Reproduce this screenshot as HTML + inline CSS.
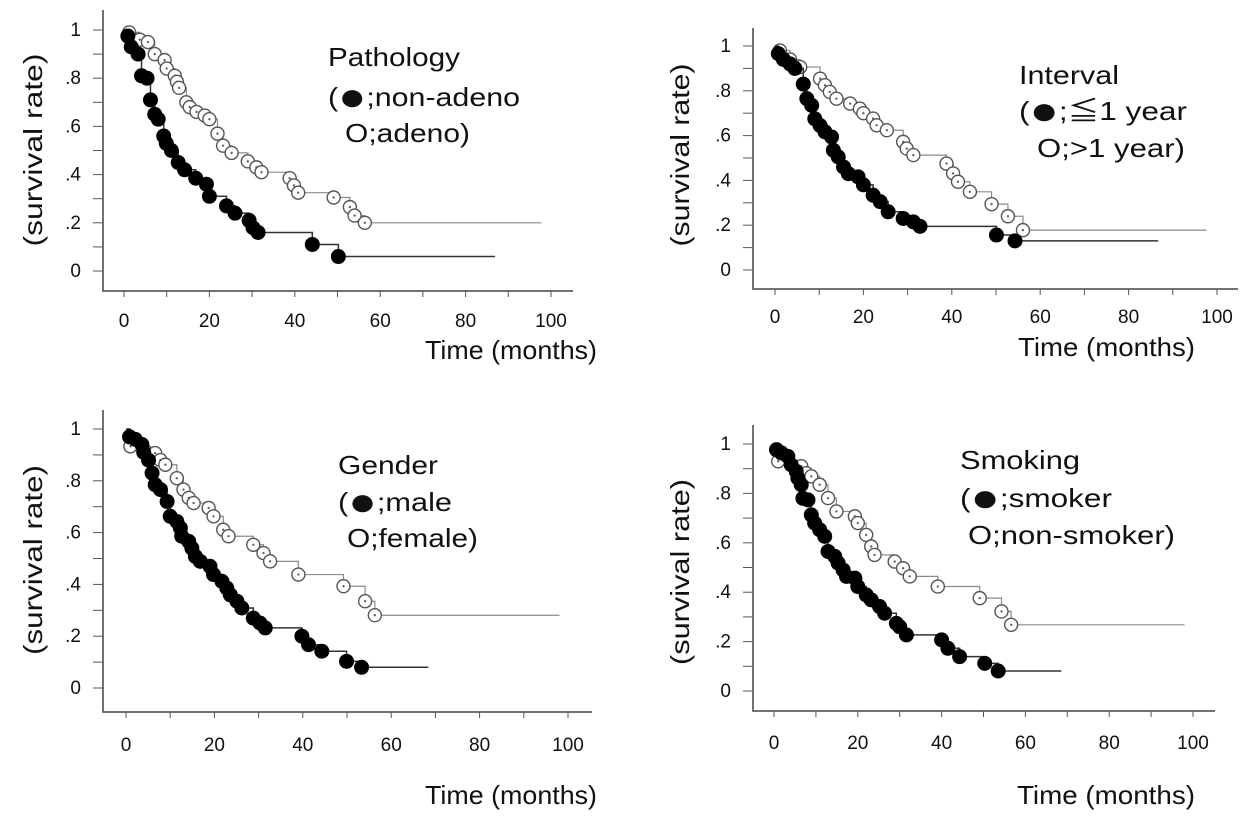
<!DOCTYPE html>
<html><head><meta charset="utf-8"><style>
html,body{margin:0;padding:0;background:#fff;}
svg{display:block;font-family:"Liberation Sans","Noto Sans CJK JP",sans-serif;}
</style></head><body>
<svg id="fig" width="1251" height="826" viewBox="0 0 1251 826"></svg>
<script>
// ---- data (months, survival) ----
const xTickLabels = ["0","20","40","60","80","100"];
const yTickLabels = ["0",".2",".4",".6",".8","1"];
const yTickValues = [0,0.2,0.4,0.6,0.8,1];
const xTickValues = [0,20,40,60,80,100];

const p1FilledT = [0.9,1.7,3.3,4.1,5.4,6.2,7.2,8,9.3,9.9,11.1,12.7,14.2,16.8,19.3,20,24,26,29.3,30.2,31.4,44.1,50.2];
const p1FilledS = [.975,.93,.90,.81,.80,.71,.65,.63,.56,.53,.50,.45,.42,.385,.36,.31,.27,.24,.21,.18,.16,.11,.06];
const p1FilledEnd = 86.9;
const p1OpenT = [1.2,3.7,5.6,7.2,9.5,10,11.9,12.4,12.9,14.6,15.4,17,18.9,20,21.9,23.2,25.2,29,31,32.2,38.8,39.8,40.8,49.1,52.9,54,56.4];
const p1OpenS = [.99,.96,.95,.90,.875,.84,.81,.785,.76,.70,.68,.66,.645,.63,.57,.52,.49,.455,.43,.41,.385,.355,.325,.305,.265,.23,.20];
const p1OpenEnd = 97.8;

const p2FilledT = [0.75,1.9,3.4,4.5,6.4,7.2,8.3,9,10.2,11.3,12.8,13.2,14.3,15.5,16.6,18.8,20,22.2,23.8,25.6,29,31.3,32.8,50.1,54.3];
const p2FilledS = [.966,.94,.92,.90,.83,.765,.735,.675,.645,.617,.594,.535,.505,.46,.43,.416,.38,.334,.305,.26,.23,.215,.195,.156,.13];
const p2FilledEnd = 86.7;
const p2OpenT = [1.1,3.4,5.7,10.2,11.3,12.4,13.9,17,19.2,20,22.2,23,25.3,29,29.8,31.3,38.8,40.3,41.4,44.1,49,52.7,56.1];
const p2OpenS = [.98,.94,.906,.854,.825,.795,.765,.743,.72,.70,.676,.646,.624,.572,.542,.513,.475,.431,.394,.349,.294,.24,.178];
const p2OpenEnd = 97.6;

const p3FilledT = [0.8,2.1,3.6,4,5.1,5.9,6.6,7.8,9.3,10,11.5,12.3,12.6,14.2,14.9,15.7,16.8,19,19.8,21.7,22.8,23.6,25.1,26.2,28.8,30.3,31.5,39.8,41.3,44.3,49.9,53.3];
const p3FilledS = [.97,.96,.94,.91,.88,.83,.785,.766,.72,.663,.643,.618,.586,.566,.54,.508,.489,.47,.438,.412,.386,.36,.335,.309,.27,.251,.232,.2,.167,.142,.103,.08];
const p3FilledEnd = 68.4;
const p3OpenT = [1,4.4,6.6,7.8,8.9,11.5,13,14.2,15.3,18.7,19.8,22,23.2,28.8,31.1,32.6,39,49.2,54.1,56.3];
const p3OpenS = [.933,.914,.907,.88,.862,.81,.766,.734,.714,.695,.663,.611,.586,.553,.521,.489,.438,.393,.335,.281];
const p3OpenEnd = 98.1;

const p4FilledT = [0.6,1.75,3.3,4.1,5.3,5.7,6.5,6.9,8.1,8.9,9.7,10.9,12.1,12.9,14.5,15.3,16.5,17.3,19.3,20,22,23.2,25.2,26.4,29.2,30,31.6,40,41.5,44.3,50.3,53.5];
const p4FilledS = [.977,.964,.95,.916,.889,.862,.835,.78,.774,.713,.68,.653,.626,.565,.545,.518,.49,.464,.457,.423,.389,.369,.342,.315,.274,.26,.227,.207,.173,.139,.112,.081];
const p4FilledEnd = 68.6;
const p4OpenT = [1,6.5,7.7,8.9,10.9,12.9,14.9,19.3,20,22,23.2,24,28.8,30.8,32.4,39.1,49.1,54.3,56.6];
const p4OpenS = [.93,.91,.882,.869,.835,.781,.727,.707,.68,.632,.585,.551,.524,.497,.464,.423,.376,.322,.268];
const p4OpenEnd = 98;

const NS = "http://www.w3.org/2000/svg";
const svg = document.getElementById("fig");
function mk(tag, attrs, parent){
  const e = document.createElementNS(NS, tag);
  for (const k in attrs) e.setAttribute(k, attrs[k]);
  (parent||svg).appendChild(e);
  return e;
}
function txt(parent, s, x, y, size, anchor, len){
  const t = mk("text", {x:x, y:y, "font-size":size, "text-anchor":anchor||"start", fill:"#111"}, parent);
  if (len){ t.setAttribute("textLength", len); t.setAttribute("lengthAdjust","spacingAndGlyphs"); }
  if (s.indexOf("●") >= 0){
    const parts = s.split("●");
    const a = mk("tspan", {}, t); a.textContent = parts[0];
    const b = mk("tspan", {"font-size":40, dy:4}, t); b.textContent = "●";
    const c = mk("tspan", {dy:-4}, t); c.textContent = parts[1];
  } else {
    t.textContent = s;
  }
  return t;
}

const panels = [
  {id:"pathology", ax:103, axTop:10, axY:291, axRight:573, x0:124, x100:551, y1:30, y0:271, xlabY:327,
   titleX:33, titleY:150, titleLen:193, timeX:425, timeY:359, timeLen:172,
   leg:[["Pathology",328,66,132],["(●;non-adeno",328,106,192],["O;adeno)",345,142,125]],
   fT:p1FilledT, fS:p1FilledS, fE:p1FilledEnd, oT:p1OpenT, oS:p1OpenS, oE:p1OpenEnd},
  {id:"interval", ax:753, axTop:28, axY:289, axRight:1238, x0:775, x100:1217, y1:46, y0:270, xlabY:323,
   titleX:680, titleY:155, titleLen:183, timeX:1018, timeY:356, timeLen:177,
   leg:[["Interval",1019,84,100],["(●;≦1 year",1019,120,168],["O;>1 year)",1037,157,148]],
   fT:p2FilledT, fS:p2FilledS, fE:p2FilledEnd, oT:p2OpenT, oS:p2OpenS, oE:p2OpenEnd},
  {id:"gender", ax:103, axTop:410, axY:712, axRight:592, x0:126, x100:568, y1:429, y0:688, xlabY:751,
   titleX:33, titleY:560, titleLen:190, timeX:425, timeY:804, timeLen:172,
   leg:[["Gender",338,474,100],["(●;male",338,511,114],["O;female)",347,547,131]],
   fT:p3FilledT, fS:p3FilledS, fE:p3FilledEnd, oT:p3OpenT, oS:p3OpenS, oE:p3OpenEnd},
  {id:"smoking", ax:753, axTop:425, axY:711, axRight:1215, x0:774, x100:1193, y1:444, y0:691, xlabY:749,
   titleX:680, titleY:572, titleLen:186, timeX:1017, timeY:804, timeLen:178,
   leg:[["Smoking",960,469,120],["(●;smoker",960,507,152],["O;non-smoker)",968,544,207]],
   fT:p4FilledT, fS:p4FilledS, fE:p4FilledEnd, oT:p4OpenT, oS:p4OpenS, oE:p4OpenEnd}
];

panels.forEach(p => {
  const g = mk("g", {});
  
  
  const X = v => p.x0 + (p.x100 - p.x0) * v / 100;
  const Y = v => p.y0 - (p.y0 - p.y1) * v;

  const axes = mk("path", {d:`M${p.ax},${p.axTop}V${p.axY}H${p.axRight}`, fill:"none", stroke:"#444", "stroke-width":1.5}, g);
  
  
  for (let i = 0; i <= 10; i++){
    mk("line", {x1:p.ax-10, x2:p.ax, y1:Y(i/10), y2:Y(i/10), stroke:"#555", "stroke-width":1}, g);
    mk("line", {x1:X(i*10), x2:X(i*10), y1:p.axY, y2:p.axY+6, stroke:"#555", "stroke-width":1}, g);
  }
  xTickValues.forEach((v,i) => {
    const t = txt(g, xTickLabels[i], X(v), p.xlabY, 19, "middle");
    
    
  });
  yTickValues.forEach((v,i) => {
    const t = txt(g, yTickLabels[i], p.ax-22, Y(v)+6, 19, "end");
    
    
  });
  const yt = mk("text", {x:0, y:0, "font-size":26, "text-anchor":"middle", fill:"#111",
    transform:`translate(${p.titleX+9},${p.titleY}) rotate(-90)`, textLength:p.titleLen, lengthAdjust:"spacingAndGlyphs"}, g);
  yt.textContent = "(survival rate)";
  
  
  const tt = txt(g, "Time (months)", p.timeX, p.timeY, 26, "start", p.timeLen);
  
  
  p.leg.forEach((l,i) => {
    const t = txt(g, l[0], l[1], l[2], 26, "start", l[3]);
    
    
  });

  function curve(T, S, end, open){
    let d = `M${X(0)},${Y(1)}`;
    for (let i = 0; i < T.length; i++) d += `H${X(T[i])}V${Y(S[i])}`;
    d += `H${X(end)}`;
    const path = mk("path", {d:d, fill:"none", stroke: open ? "#8a8a8a" : "#333", "stroke-width": open ? 1.2 : 1.5}, g);
    
    
    for (let i = 0; i < T.length; i++){
      if (open){
        const c = mk("circle", {cx:X(T[i]), cy:Y(S[i]), r:6.5, fill:"#fff", stroke:"#555", "stroke-width":1.4}, g);
        
        
        mk("circle", {cx:X(T[i]), cy:Y(S[i]), r:1.2, fill:"#666"}, g);
      } else {
        const c = mk("circle", {cx:X(T[i]), cy:Y(S[i]), r:7.5, fill:"#000"}, g);
        
        
      }
    }
  }
  curve(p.oT, p.oS, p.oE, true);
  curve(p.fT, p.fS, p.fE, false);
});
</script>
</body></html>
